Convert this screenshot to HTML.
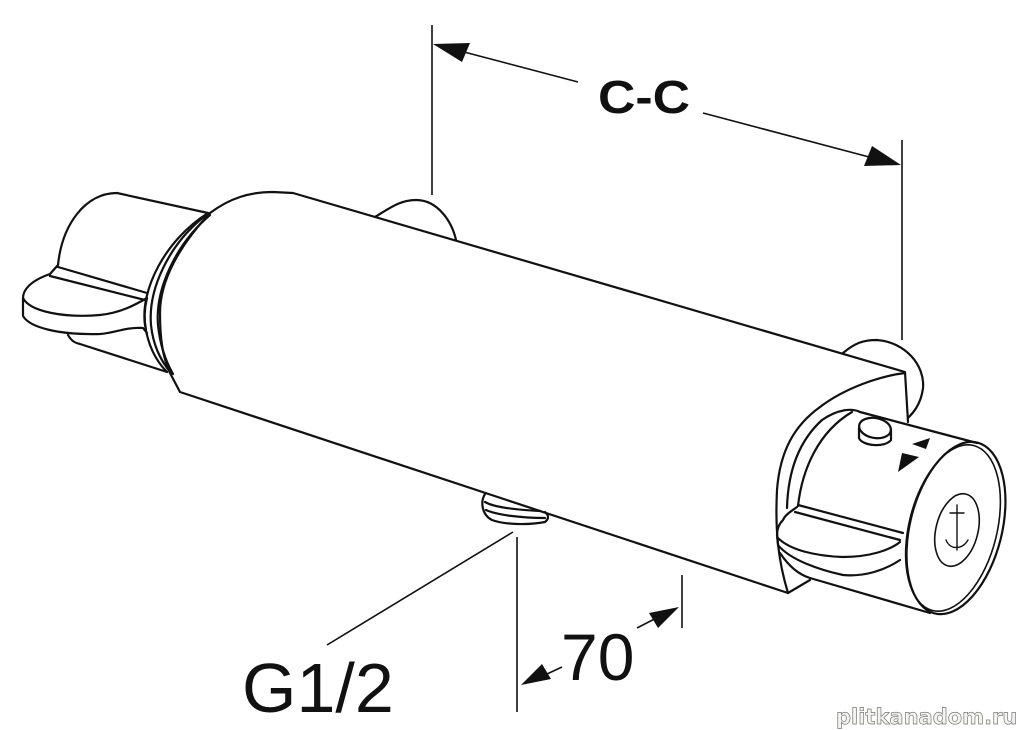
<!DOCTYPE html>
<html><head><meta charset="utf-8">
<style>
html,body{margin:0;padding:0;background:#fff;}
svg{display:block;}
</style></head>
<body>
<svg width="1024" height="730" viewBox="0 0 1024 730" xmlns="http://www.w3.org/2000/svg">
<g fill="none" stroke="#111" stroke-width="2.2" stroke-linejoin="round" stroke-linecap="round">
<!-- back pipes -->
<path d="M375,217 C390,208 400,200 416,200 C438,200 452,222 456,240"/>
<path d="M843,353 C855,343 863,340 877,340 C905,342 925,365 923,388 C921,405 912,414 908,418"/>
<!-- left handle -->
<path d="M58,265 C62,225 85,193 117,193 L208,213"/>
<path d="M58,265 L50,274 C30,281 23,290 23,298 L23,316 C30,328 60,335 100,334 C115,333 125,327 143,328 L147,333"/>
<path d="M23,298 C30,312 65,318 100,315 C120,313 135,305 147,298"/>
<path d="M58,267 L147,293"/>
<path d="M50,276 L145,300"/>
<path d="M147,298 C144,310 144,320 146,330"/>
<path d="M68,335 C72,342 76,343 80,344 L167,372"/>
<!-- rings -->
<path d="M208,213 C165,240 140,290 145,325 C148,345 155,360 167,372"/>
<path d="M205,216 C168,245 148,290 151,325 C153,345 160,360 171,373"/>
<path d="M210,215 C175,245 155,290 158,325 C160,345 165,360 173,374"/>
<!-- main body -->
<path d="M210,213 C230,198 250,192 273,192 L293,193 L905,372 L908,422"/>
<path d="M210,213 C180,245 160,280 160,313 C160,340 163,358 170,373 L180,392 L788,593"/>
<!-- fitting -->
<path d="M485,494 C480,502 482,515 492,520 C505,525 530,525 545,522 C550,518 548,515 545,512"/>
<path d="M485,502 C495,508 520,510 540,511"/>
<path d="M486,510 C497,515 522,518 545,518"/>
<!-- right handle ring -->
<path d="M905,373 C880,376 845,388 820,407 C795,425 780,450 777,490 C775,530 778,560 788,593"/>
<path d="M787,508 C788,470 800,440 822,420 C838,409 852,408 860,412"/>
<path d="M798,506 C802,470 818,432 852,412"/>
<path d="M788,593 L810,580"/>
<!-- cartridge -->
<path d="M860,412 L977,443"/>
<path d="M810,578 L930,613"/>
<!-- paddle right -->
<path d="M798,505 L903,533"/>
<path d="M795,512 L900,540"/>
<path d="M797,507 C790,512 785,515 783,520 C778,525 777,530 777,535 L778,545 C790,560 820,570 843,575 C865,577 885,570 900,560"/>
<path d="M778,538 C790,550 815,556 843,557 C870,557 890,550 900,542"/>
<path d="M780,553 C790,568 800,575 810,578"/>
<!-- knob -->
<ellipse cx="875" cy="428" rx="16" ry="10" transform="rotate(10 875 428)"/>
<path d="M859,428 L859,438 C862,446 885,448 891,440 L891,430"/>
<!-- end cap -->
<ellipse cx="956" cy="528" rx="46" ry="88" transform="rotate(14 956 528)"/>
<ellipse cx="953" cy="528" rx="44" ry="85" transform="rotate(14 953 528)" stroke-width="1.6"/>
<ellipse cx="957" cy="530" rx="21" ry="37" transform="rotate(14 957 530)" stroke-width="1.6"/>
<path d="M957,505 L957,550 M950,513 L964,513 M946,540 C950,550 962,550 968,540" stroke-width="1.4"/>
</g>
<g fill="#111">
<polygon points="912,444 930,438 926,449"/>
<polygon points="902,453 919,457 898,472"/>
</g>
<!-- dimension lines -->
<g stroke="#111" stroke-width="1.6" fill="none">
<line x1="432" y1="25" x2="432" y2="195"/>
<line x1="902" y1="140" x2="902" y2="340"/>
<line x1="445" y1="47" x2="578" y2="82"/>
<line x1="703" y1="113" x2="888" y2="162"/>
<line x1="513" y1="532" x2="327" y2="645"/>
<line x1="517" y1="537" x2="517" y2="712"/>
<line x1="682" y1="575" x2="682" y2="628"/>
<line x1="532" y1="681" x2="562" y2="667"/>
<line x1="637" y1="628" x2="668" y2="612"/>
</g>
<g fill="#111">
<polygon points="433,44 470,43 462,62"/>
<polygon points="901,165 864,166 872,146"/>
<polygon points="521,685 542,664 551,679"/>
<polygon points="679,607 658,628 649,613"/>
</g>
<g font-family="Liberation Sans, sans-serif" fill="#111">
<text x="598" y="113" font-size="46" font-weight="bold" textLength="92" lengthAdjust="spacingAndGlyphs">C-C</text>
<text x="242" y="712" font-size="70">G1/2</text>
<text x="561" y="680" font-size="66">70</text>
</g>
<text x="836" y="724" font-family="DejaVu Sans, sans-serif" font-size="21" font-weight="bold" fill="#f4f4ee" stroke="#777" stroke-width="0.7">plitkanadom.ru</text>
</svg>
</body></html>
